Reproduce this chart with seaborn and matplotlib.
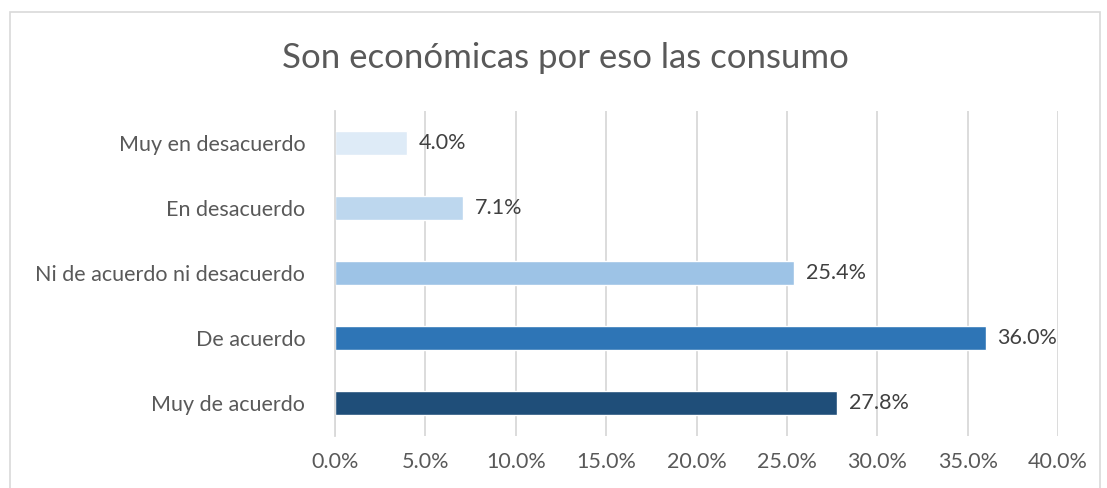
import matplotlib
matplotlib.use("Agg")
import matplotlib.pyplot as plt
import seaborn as sns
import pandas as pd
from matplotlib.patches import Rectangle
from matplotlib.ticker import FuncFormatter, MultipleLocator

categories = ["Muy en desacuerdo", "En desacuerdo", "Ni de acuerdo ni desacuerdo", "De acuerdo", "Muy de acuerdo"]
values = [4.0, 7.1, 25.4, 36.0, 27.8]
colors = ["#DEEBF7", "#BDD7EE", "#9DC3E6", "#2E75B6", "#1F4E79"]
title = "Son económicas por eso las consumo"

sns.set_theme(style="white")
plt.rcParams['font.family'] = ['Lato', 'DejaVu Sans']

df = pd.DataFrame({"cat": categories, "val": values})

W, H = 1107, 488
fig = plt.figure(figsize=(W / 100, H / 100), dpi=100)
ax = fig.add_axes([335 / W, 1 - 435.5 / H, (1058 - 335) / W, (435.5 - 110.5) / H])

sns.barplot(data=df, y="cat", x="val", hue="cat", palette=colors, legend=False,
            orient="h", width=0.37, ax=ax, saturation=1)

ax.set_xlim(0, 40)
ax.xaxis.set_major_locator(MultipleLocator(5))
ax.xaxis.set_major_formatter(FuncFormatter(lambda v, p: f"{v:.1f}%"))
ax.grid(axis="x", color="#D9D9D9", linewidth=1.3)
ax.set_axisbelow(True)
for s in ["top", "right", "bottom"]:
    ax.spines[s].set_visible(False)
ax.spines["left"].set_color("#D9D9D9")
ax.spines["left"].set_linewidth(1.3)
ax.set_xlabel("")
ax.set_ylabel("")
ax.tick_params(axis="both", length=0, labelsize=15.5, labelcolor="#595959")
ax.tick_params(axis="x", pad=12)
ax.tick_params(axis="y", pad=21.5)

for i, v in enumerate(values):
    ax.text(v + 0.65, i, f"{v:.1f}%", va="center", ha="left", fontsize=15.5, color="#404040")

fig.text(565 / W, 1 - 58 / H, title, ha="center", va="center", fontsize=25, color="#595959")

fig.patches.append(Rectangle((10 / W, -0.05), (1100 - 10) / W, 1.05 - 12 / H,
                             transform=fig.transFigure, fill=False, edgecolor="#D9D9D9", linewidth=1.2))

fig.savefig("out.png", dpi=100)
